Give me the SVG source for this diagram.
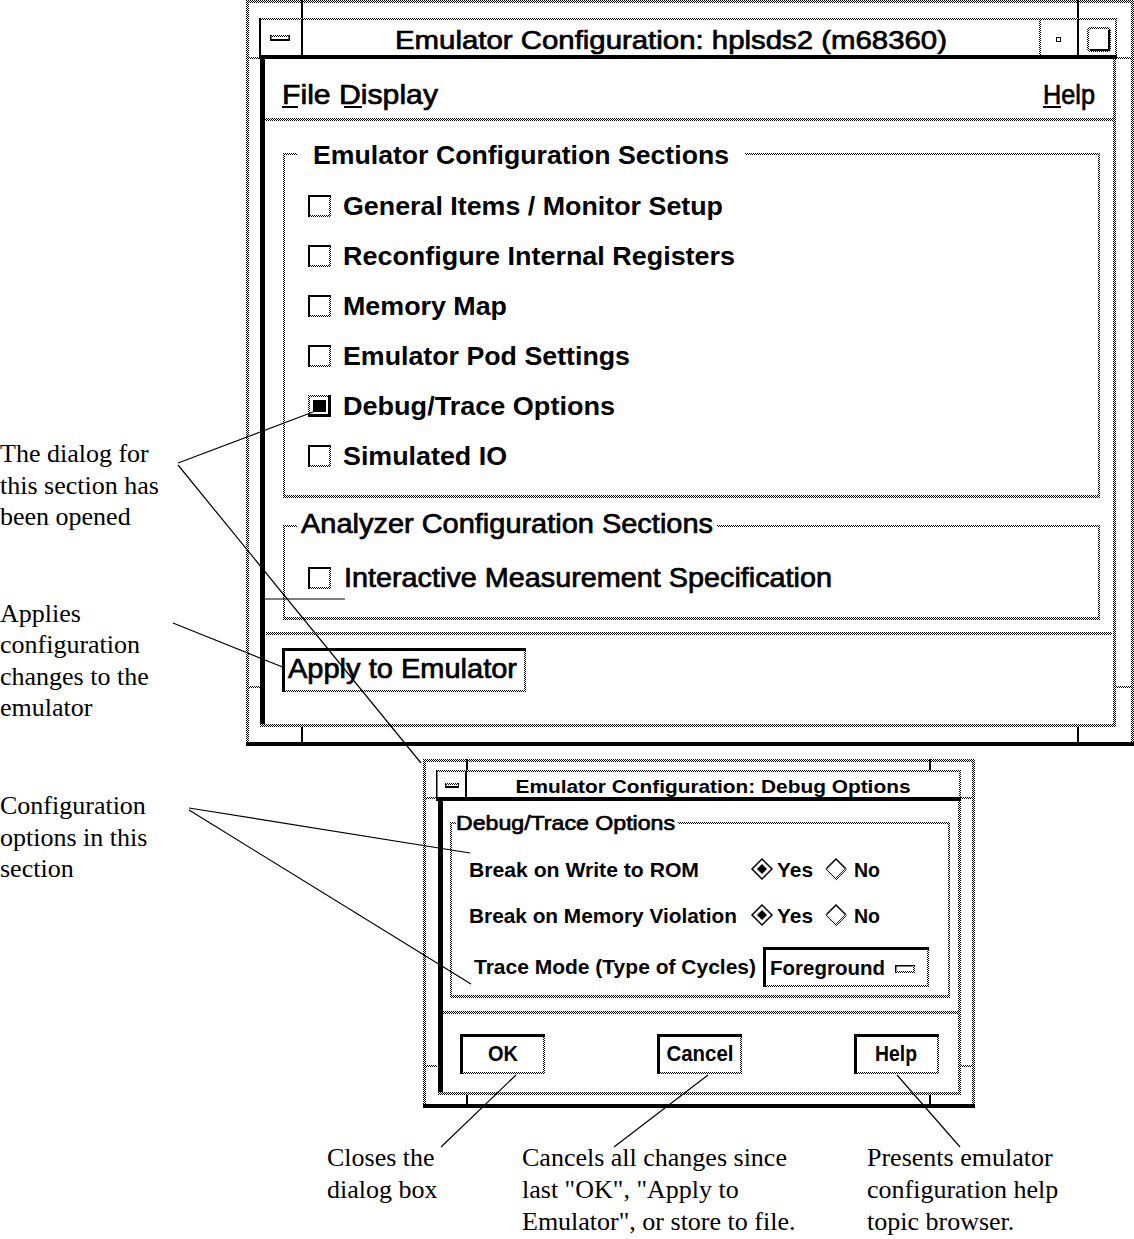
<svg xmlns="http://www.w3.org/2000/svg" width="1134" height="1239" viewBox="0 0 1134 1239">
<defs>
<pattern id="st" width="2" height="2" patternUnits="userSpaceOnUse">
<rect width="2" height="2" fill="#fff"/>
<rect width="1" height="1" fill="#000"/>
<rect x="1" y="1" width="1" height="1" fill="#000"/>
</pattern>
<style>
.s{fill:url(#st)}
.k{fill:#000}
.ui{font-family:"Liberation Sans",Arial,sans-serif;fill:#000}
.b{font-weight:bold}
.m{stroke:#000;stroke-width:0.7}
.ann{font-family:"Liberation Serif","Times New Roman",serif;font-size:26px;fill:#000}
.ln{stroke:#000;stroke-width:1.2;fill:none}
.sd{stroke:url(#st);stroke-width:2;fill:none}
</style>
<g id="cbox"><rect width="23" height="22" fill="#fff"/><rect width="23" height="2"/><rect width="2" height="22"/><rect class="s" x="21" y="2" width="2" height="20"/><rect class="s" x="2" y="20" width="21" height="2"/></g>
<g id="cboxOn"><rect width="23" height="22" fill="#fff"/><rect class="s" width="23" height="2"/><rect class="s" width="2" height="22"/><rect x="20" y="0" width="3" height="22"/><rect x="0" y="19" width="23" height="3"/><rect x="5" y="5" width="13" height="12"/></g>
<g id="dOn"><polygon points="-10,0 0,-10 10,0 0,10" fill="#fff" stroke="#000" stroke-width="1.5"/><polygon points="-5,0 0,-5 5,0 0,5" fill="#000"/></g>
<g id="dOff"><polygon points="-10,0 0,-10 10,0 0,10" fill="#fff"/><polyline points="-10,0 0,-10 10,0" fill="none" stroke="#000" stroke-width="1.5"/><polyline points="10,0 0,10 -10,0" class="sd"/></g>
</defs>
<rect width="1134" height="1239" fill="#fff"/>

<g id="main-window">
<rect x="246" y="0" width="888" height="746" fill="#fff"/>
<rect class="s" x="246" y="0" width="888" height="3"/>
<rect class="s" x="246" y="0" width="3" height="746"/>
<rect class="s" x="1131" y="0" width="3" height="746"/>
<rect class="k" x="246" y="742" width="888" height="4"/>
<rect class="k" x="301" y="0" width="2" height="19"/>
<rect class="k" x="1077" y="0" width="2" height="19"/>
<rect class="k" x="301" y="727" width="2" height="15"/>
<rect class="k" x="1077" y="727" width="2" height="15"/>
<rect class="s" x="246" y="57" width="14" height="2"/>
<rect class="s" x="1116" y="57" width="18" height="2"/>
<rect class="s" x="246" y="686" width="14" height="2"/>
<rect class="s" x="1116" y="686" width="18" height="2"/>
<!-- title bar -->
<rect class="s" x="259" y="18" width="858" height="2"/>
<rect class="k" x="259" y="18" width="2" height="40"/>
<rect class="s" x="1115" y="18" width="2" height="40"/>
<rect class="k" x="301" y="19" width="2" height="37"/>
<rect class="s" x="1039" y="19" width="2" height="37"/>
<rect class="k" x="1077" y="19" width="2" height="37"/>
<rect class="k" x="259" y="55" width="858" height="4"/>
<rect class="s" x="270" y="35" width="20" height="2"/>
<rect class="k" x="270" y="39" width="20" height="2"/>
<rect class="k" x="270" y="35" width="1.5" height="6"/>
<rect class="k" x="288.5" y="35" width="1.5" height="6"/>
<rect x="1056.5" y="37.5" width="4" height="4" fill="#fff" stroke="#000" stroke-width="1"/>
<rect x="1088" y="28" width="22" height="23" rx="3" class="sd"/>
<path d="M1109,30 V50 H1090" fill="none" stroke="#000" stroke-width="2"/>
<text class="ui m" x="671" y="49" font-size="26" text-anchor="middle" textLength="552" lengthAdjust="spacingAndGlyphs">Emulator Configuration: hplsds2 (m68360)</text>
<!-- content frame -->
<rect class="k" x="260" y="59" width="5" height="668"/>
<rect class="s" x="1113" y="59" width="3" height="668"/>
<rect class="s" x="260" y="724" width="856" height="3"/>
<rect class="s" x="265" y="118" width="848" height="3"/>
<!-- menu -->
<text class="ui m" x="282" y="104" font-size="28" textLength="156" lengthAdjust="spacingAndGlyphs">File Display</text>
<text class="ui m" x="1043" y="104" font-size="28" textLength="52" lengthAdjust="spacingAndGlyphs">Help</text>
<rect class="k" x="282" y="106" width="16" height="2"/>
<rect class="k" x="344" y="106" width="18" height="2"/>
<rect class="k" x="1043" y="106" width="18" height="2"/>
</g>

<g id="emulator-sections">
<rect class="s" x="283" y="153" width="2" height="345"/>
<rect class="s" x="283" y="153" width="14" height="2"/>
<rect class="s" x="745" y="153" width="355" height="2"/>
<rect class="s" x="1098" y="153" width="2" height="345"/>
<rect class="s" x="283" y="495" width="817" height="3"/>
<text class="ui b" x="313" y="164" font-size="25" textLength="416" lengthAdjust="spacingAndGlyphs">Emulator Configuration Sections</text>
<use href="#cbox" x="308" y="195"/>
<text class="ui b" x="343" y="215" font-size="25" textLength="380" lengthAdjust="spacingAndGlyphs">General Items / Monitor Setup</text>
<use href="#cbox" x="308" y="245"/>
<text class="ui b" x="343" y="265" font-size="25" textLength="392" lengthAdjust="spacingAndGlyphs">Reconfigure Internal Registers</text>
<use href="#cbox" x="308" y="295"/>
<text class="ui b" x="343" y="315" font-size="25" textLength="164" lengthAdjust="spacingAndGlyphs">Memory Map</text>
<use href="#cbox" x="308" y="345"/>
<text class="ui b" x="343" y="365" font-size="25" textLength="287" lengthAdjust="spacingAndGlyphs">Emulator Pod Settings</text>
<use href="#cboxOn" x="308" y="395"/>
<text class="ui b" x="343" y="415" font-size="25" textLength="272" lengthAdjust="spacingAndGlyphs">Debug/Trace Options</text>
<use href="#cbox" x="308" y="445"/>
<text class="ui b" x="343" y="465" font-size="25" textLength="164" lengthAdjust="spacingAndGlyphs">Simulated IO</text>
</g>

<g id="analyzer-sections">
<rect class="s" x="283" y="525" width="2" height="95"/>
<rect class="s" x="283" y="525" width="14" height="2"/>
<rect class="s" x="717" y="525" width="383" height="2"/>
<rect class="s" x="1098" y="525" width="2" height="95"/>
<rect class="s" x="283" y="617" width="817" height="3"/>
<text class="ui m" x="301" y="533" font-size="27" textLength="412" lengthAdjust="spacingAndGlyphs">Analyzer Configuration Sections</text>
<use href="#cbox" x="308" y="567"/>
<text class="ui m" x="344" y="587" font-size="27" textLength="488" lengthAdjust="spacingAndGlyphs">Interactive Measurement Specification</text>
</g>

<g id="apply-button">
<rect class="s" x="266" y="632" width="846" height="3"/>
<rect class="k" x="282" y="648" width="244" height="3"/>
<rect class="k" x="282" y="648" width="3" height="44"/>
<rect class="s" x="524" y="651" width="2" height="41"/>
<rect class="s" x="285" y="690" width="241" height="2"/>
<text class="ui m" x="288" y="678" font-size="28" textLength="229" lengthAdjust="spacingAndGlyphs">Apply to Emulator</text>
</g>

<g id="debug-dialog">
<rect x="423" y="759" width="552" height="349" fill="#fff"/>
<rect class="s" x="423" y="759" width="552" height="3"/>
<rect class="s" x="423" y="759" width="3" height="349"/>
<rect class="s" x="972" y="759" width="3" height="349"/>
<rect class="k" x="423" y="1104" width="552" height="4"/>
<rect class="k" x="466" y="759" width="2" height="12"/>
<rect class="k" x="929" y="759" width="2" height="12"/>
<rect class="k" x="466" y="1095" width="2" height="10"/>
<rect class="k" x="929" y="1095" width="2" height="10"/>
<rect class="s" x="423" y="797" width="14" height="2"/>
<rect class="s" x="960" y="797" width="15" height="2"/>
<rect class="s" x="423" y="1065" width="14" height="2"/>
<rect class="s" x="960" y="1065" width="15" height="2"/>
<rect class="s" x="436" y="770" width="525" height="2"/>
<rect class="k" x="436" y="770" width="1.5" height="30"/>
<rect class="s" x="959" y="770" width="2" height="30"/>
<rect class="k" x="465" y="771" width="2" height="27"/>
<rect class="k" x="436" y="797" width="525" height="4"/>
<rect class="s" x="445" y="783" width="14" height="2"/>
<rect class="k" x="445" y="786" width="14" height="2"/>
<rect class="k" x="445" y="783" width="1" height="5"/>
<rect class="k" x="458" y="783" width="1" height="5"/>
<text class="ui b" x="713" y="793" font-size="18" text-anchor="middle" textLength="395" lengthAdjust="spacingAndGlyphs">Emulator Configuration: Debug Options</text>
<rect class="k" x="438" y="801" width="5" height="294"/>
<rect class="s" x="958" y="801" width="3" height="294"/>
<rect class="s" x="438" y="1092" width="523" height="3"/>
<!-- group -->
<rect class="s" x="450" y="822" width="2" height="176"/>
<rect class="s" x="450" y="822" width="6" height="2"/>
<rect class="s" x="678" y="822" width="272" height="2"/>
<rect class="s" x="948" y="822" width="2" height="176"/>
<rect class="s" x="450" y="995" width="500" height="3"/>
<text class="ui m" x="456" y="830" font-size="21" textLength="219" lengthAdjust="spacingAndGlyphs">Debug/Trace Options</text>
<text class="ui b" x="469" y="877" font-size="21" textLength="230" lengthAdjust="spacingAndGlyphs">Break on Write to ROM</text>
<use href="#dOn" x="762" y="869"/>
<text class="ui b" x="777" y="877" font-size="21" textLength="36" lengthAdjust="spacingAndGlyphs">Yes</text>
<use href="#dOff" x="836" y="869"/>
<text class="ui b" x="854" y="877" font-size="21" textLength="26" lengthAdjust="spacingAndGlyphs">No</text>
<text class="ui b" x="469" y="923" font-size="21" textLength="268" lengthAdjust="spacingAndGlyphs">Break on Memory Violation</text>
<use href="#dOn" x="762" y="915"/>
<text class="ui b" x="777" y="923" font-size="21" textLength="36" lengthAdjust="spacingAndGlyphs">Yes</text>
<use href="#dOff" x="836" y="915"/>
<text class="ui b" x="854" y="923" font-size="21" textLength="26" lengthAdjust="spacingAndGlyphs">No</text>
<text class="ui b" x="474" y="974" font-size="21" textLength="282" lengthAdjust="spacingAndGlyphs">Trace Mode (Type of Cycles)</text>
<rect class="k" x="763" y="947" width="166" height="3"/>
<rect class="k" x="763" y="947" width="3" height="40"/>
<rect class="s" x="927" y="950" width="2" height="37"/>
<rect class="s" x="766" y="985" width="163" height="2"/>
<text class="ui b" x="770" y="975" font-size="21" textLength="115" lengthAdjust="spacingAndGlyphs">Foreground</text>
<rect class="k" x="895" y="965" width="20" height="1.5"/>
<rect class="k" x="895" y="965" width="1.5" height="8"/>
<rect class="s" x="913" y="966" width="2" height="7"/>
<rect class="s" x="896" y="971" width="19" height="2"/>
<!-- separator and buttons -->
<rect class="s" x="443" y="1011" width="515" height="3"/>
<g id="btn-ok">
<rect class="k" x="460" y="1034" width="85" height="3"/>
<rect class="k" x="460" y="1034" width="3" height="40"/>
<rect class="s" x="543" y="1037" width="2" height="37"/>
<rect class="s" x="463" y="1072" width="82" height="2"/>
<text class="ui b" x="503" y="1061" font-size="22" text-anchor="middle" textLength="30" lengthAdjust="spacingAndGlyphs">OK</text>
</g>
<g id="btn-cancel">
<rect class="k" x="657" y="1034" width="85" height="3"/>
<rect class="k" x="657" y="1034" width="3" height="40"/>
<rect class="s" x="740" y="1037" width="2" height="37"/>
<rect class="s" x="660" y="1072" width="82" height="2"/>
<text class="ui b" x="700" y="1061" font-size="22" text-anchor="middle" textLength="67" lengthAdjust="spacingAndGlyphs">Cancel</text>
</g>
<g id="btn-help">
<rect class="k" x="854" y="1034" width="85" height="3"/>
<rect class="k" x="854" y="1034" width="3" height="40"/>
<rect class="s" x="937" y="1037" width="2" height="37"/>
<rect class="s" x="857" y="1072" width="82" height="2"/>
<text class="ui b" x="896" y="1061" font-size="22" text-anchor="middle" textLength="42" lengthAdjust="spacingAndGlyphs">Help</text>
</g>
</g>

<g id="annotations">
<text class="ann" x="0" y="462">The dialog for</text>
<text class="ann" x="0" y="494">this section has</text>
<text class="ann" x="0" y="525">been opened</text>
<text class="ann" x="0" y="622">Applies</text>
<text class="ann" x="0" y="653">configuration</text>
<text class="ann" x="0" y="685">changes to the</text>
<text class="ann" x="0" y="716">emulator</text>
<text class="ann" x="0" y="814">Configuration</text>
<text class="ann" x="0" y="846">options in this</text>
<text class="ann" x="0" y="877">section</text>
<text class="ann" x="327" y="1166">Closes the</text>
<text class="ann" x="327" y="1198">dialog box</text>
<text class="ann" x="522" y="1166">Cancels all changes since</text>
<text class="ann" x="522" y="1198">last "OK", "Apply to</text>
<text class="ann" x="522" y="1230">Emulator", or store to file.</text>
<text class="ann" x="867" y="1166">Presents emulator</text>
<text class="ann" x="867" y="1198">configuration help</text>
<text class="ann" x="867" y="1230">topic browser.</text>
</g>

<g id="connectors">
<line class="ln" x1="178" y1="463" x2="313" y2="412"/>
<line class="ln" x1="178" y1="465" x2="421" y2="763"/>
<line class="ln" x1="173" y1="623" x2="285" y2="668"/>
<line class="ln" x1="265" y1="599" x2="345" y2="599"/>
<line class="ln" x1="189" y1="808" x2="470" y2="853"/>
<line class="ln" x1="189" y1="810" x2="471" y2="984"/>
<line class="ln" x1="516" y1="1075" x2="441" y2="1147"/>
<line class="ln" x1="708" y1="1075" x2="614" y2="1147"/>
<line class="ln" x1="897" y1="1075" x2="960" y2="1147"/>
</g>
</svg>
